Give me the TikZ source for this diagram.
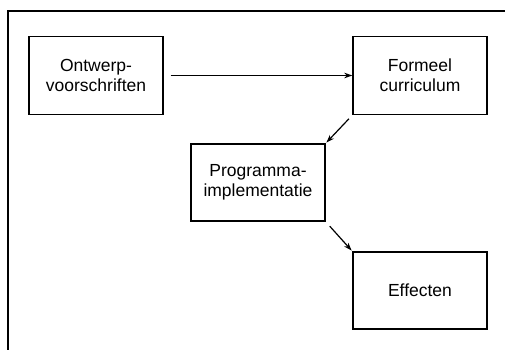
\documentclass[tikz,border=0pt]{standalone}
\usepackage{fontspec}
\setmainfont{Liberation Sans}
\usetikzlibrary{arrows.meta}
\tikzset{
  blok/.style={draw, line width=1.4pt, minimum width=134pt, minimum height=78pt,
    align=center, inner sep=0pt,
    font=\fontsize{17.5}{20}\selectfont},
  pijl/.style={line width=1.2pt, -{Stealth[length=8pt,width=5.5pt]}},
  kader/.style={line width=2pt}
}
\begin{document}
\begin{tikzpicture}[x=1pt,y=-1pt]
  \useasboundingbox (0,0) rectangle (505,350);
  % open frame: top and left edges
  \draw[kader] (505,11) -- (8,11) -- (8,350);
  % the four stages
  \node[blok] (ontwerp) at (96,75.5) {Ontwerp-\\voorschriften};
  \node[blok] (formeel) at (420,75.5) {Formeel\\curriculum};
  \node[blok, minimum height=77pt] (impl) at (258,182.5) {Programma-\\implementatie};
  \node[blok, minimum height=77pt] (effect) at (420,290.5) {Effecten};
  % connectors
  \draw[pijl, shorten <=7pt] (ontwerp.east) -- (formeel.west);
  \draw[pijl, shorten <=5pt, shorten >=1pt] (formeel.south west) -- (impl.north east);
  \draw[pijl, shorten <=6pt, shorten >=1pt] (impl.south east) -- (effect.north west);
\end{tikzpicture}
\end{document}
